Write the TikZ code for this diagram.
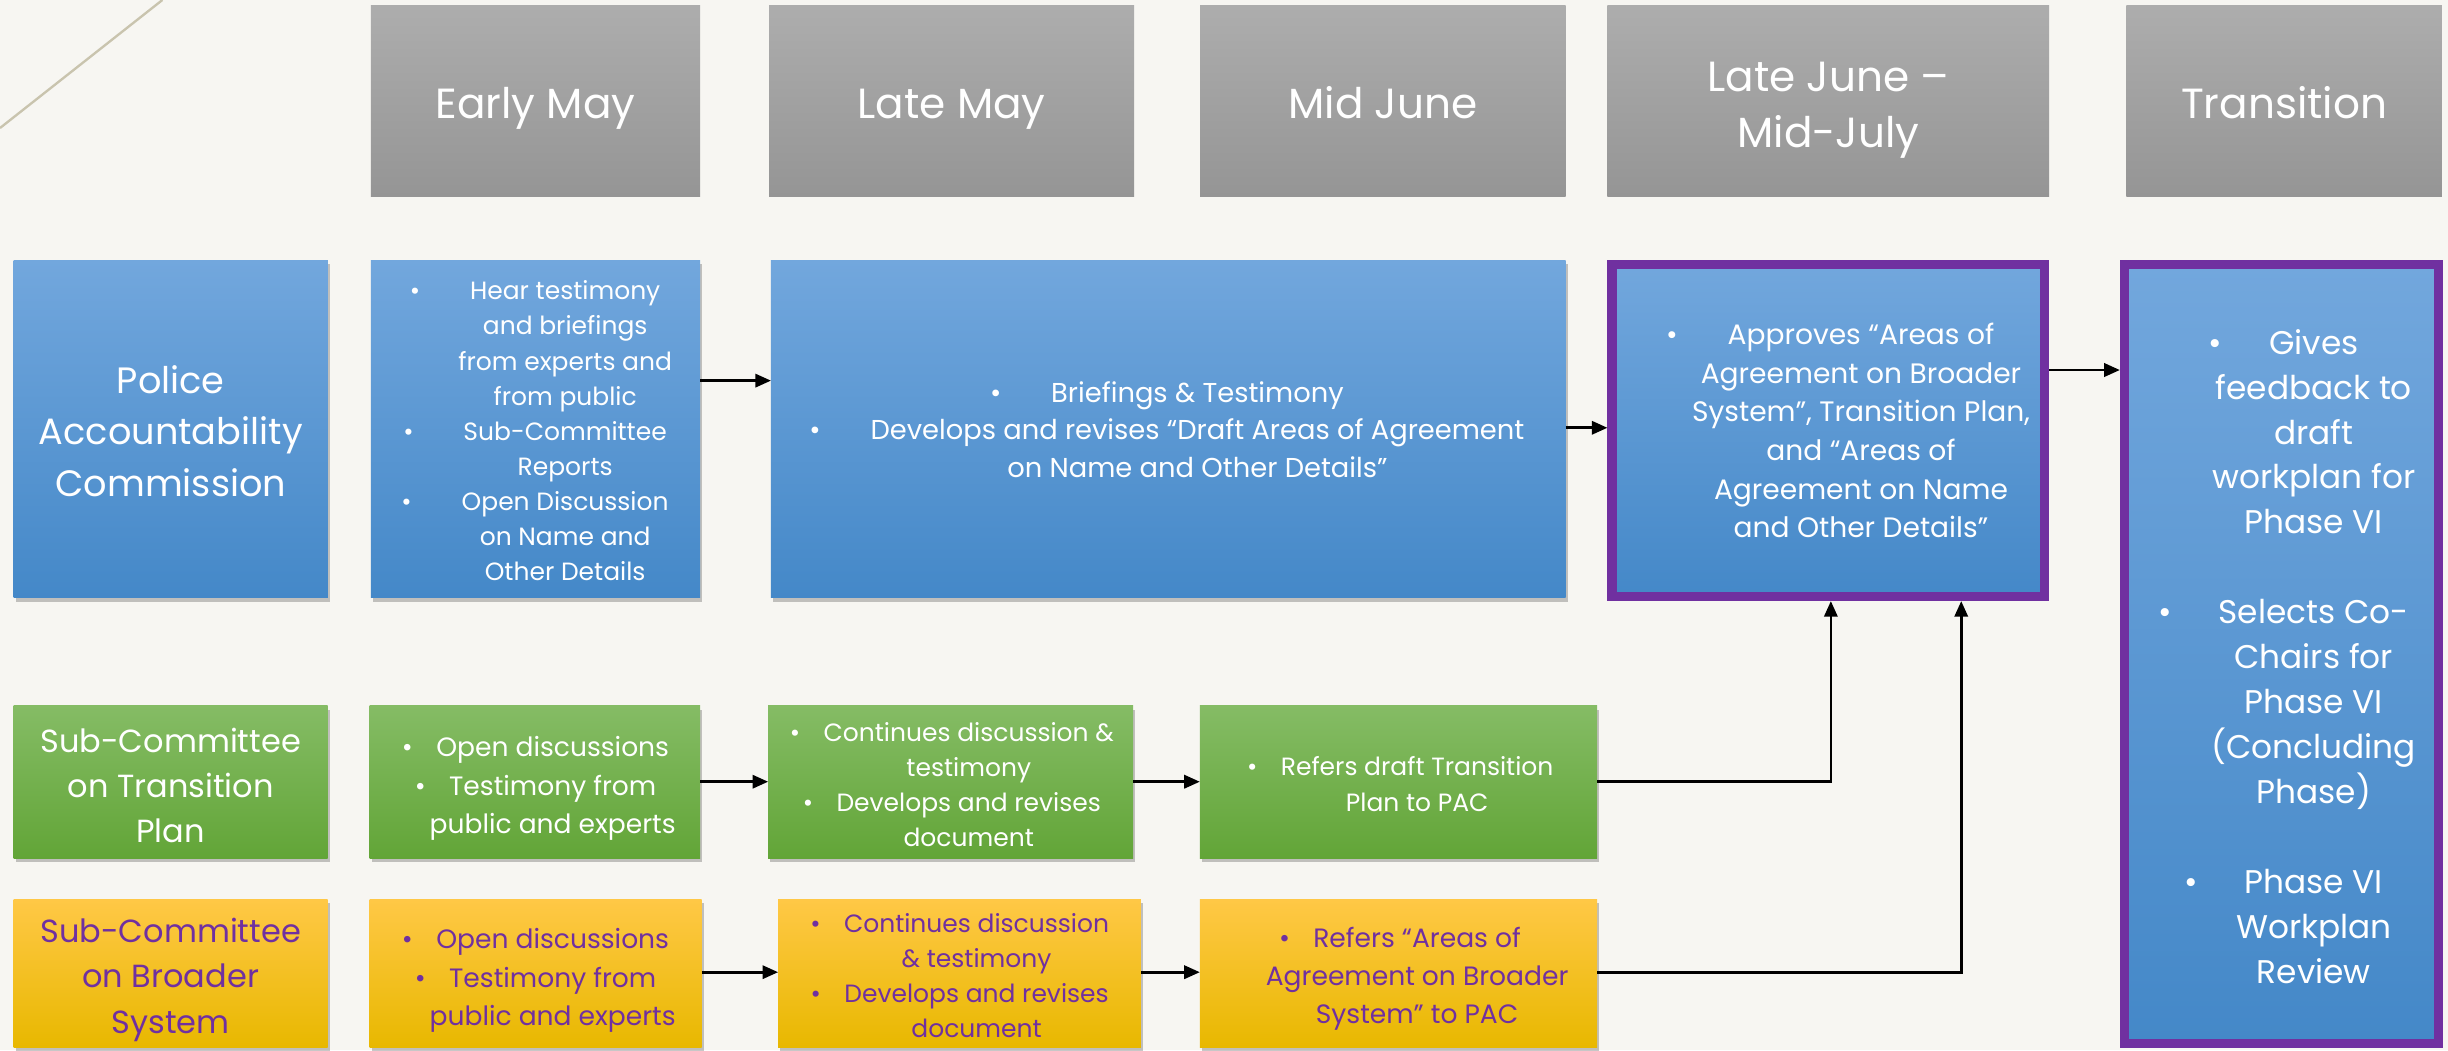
\documentclass[tikz,border=0pt]{standalone}
\usepackage{fontspec}
\setmainfont{Poppins}
\usetikzlibrary{arrows.meta,shadows}
\definecolor{bg}{HTML}{F7F6F2}
\definecolor{grayT}{HTML}{ADADAD}
\definecolor{grayB}{HTML}{959595}
\definecolor{blueT}{HTML}{72A7DD}
\definecolor{blueB}{HTML}{4488C8}
\definecolor{greenT}{HTML}{85BC65}
\definecolor{greenB}{HTML}{62A537}
\definecolor{yelT}{HTML}{FFC846}
\definecolor{yelB}{HTML}{E8B800}
\definecolor{purp}{HTML}{7030A0}
\definecolor{deco}{HTML}{C9C4AE}
\newcommand\fs[2]{\fontsize{#1}{#2}\selectfont}
\newcommand\bul[1]{\llap{\textbullet\hspace{#1}}}
\tikzset{
  boxbase/.style={rectangle, inner sep=0pt, outer sep=0pt},
  shd/.style={general shadow={shadow xshift=1.5pt, shadow yshift=-2.5pt, fill=black, opacity=0.22}},
  hdrbox/.style={boxbase, top color=grayT, bottom color=grayB},
  bluebox/.style={boxbase, shd, top color=blueT, bottom color=blueB},
  framebox/.style={boxbase, top color=blueT, bottom color=blueB, draw=purp, line width=5.8pt, outer sep=2.9pt},
  greenbox/.style={boxbase, shd, top color=greenT, bottom color=greenB},
  yelbox/.style={boxbase, shd, top color=yelT, bottom color=yelB},
  txt/.style={align=center, inner sep=0pt, text=white},
  ptxt/.style={align=center, inner sep=0pt, text=purp},
  htxt/.style={txt, font=\fs{27}{36}},
  h1txt/.style={htxt, text height=0.74em, text depth=0pt},
  arr/.style={draw=black, line width=1.7pt, -{Triangle[length=10pt,width=8.5pt]}},
}
\begin{document}
\begin{tikzpicture}[x=1pt,y=-1pt]
\useasboundingbox (0,0) rectangle (1568,672.6);
\fill[bg] (0,0) rectangle (1568,672.6);
\draw[deco, line width=1.5pt] (0,82) -- (104,0);

% headers
\node[hdrbox, minimum width=210.8pt, minimum height=122.5pt] (h1) at (343,64.55) {};
\node[hdrbox, minimum width=233.7pt, minimum height=122.5pt] (h2) at (609.55,64.55) {};
\node[hdrbox, minimum width=234.1pt, minimum height=122.5pt] (h3) at (885.75,64.55) {};
\node[hdrbox, minimum width=282.9pt, minimum height=122.5pt] (h4) at (1171.05,64.55) {};
\node[hdrbox, minimum width=202pt, minimum height=122.5pt] (h5) at (1463,64.55) {};
\node[h1txt] (th1) at (343,72.5) {Early May};
\node[h1txt] (th2) at (609.55,72.5) {Late May};
\node[h1txt] (th3) at (885.75,72.5) {Mid June};
\node[htxt] (th4) at (1171.05,70.6) {Late June –\\Mid-July};
\node[h1txt] (th5) at (1463,72.3) {Transition};

% row 1
\node[bluebox, minimum width=201.2pt, minimum height=216.2pt] (b1) at (109.4,274.7) {};
\node[bluebox, minimum width=210.8pt, minimum height=216.2pt] (b2) at (343,274.7) {};
\node[bluebox, minimum width=509pt, minimum height=216.2pt] (b3) at (748.3,274.7) {};
\node[framebox, minimum width=277.1pt, minimum height=212.6pt] (b4) at (1171.05,275.8) {};
\node[framebox, minimum width=200.9pt, minimum height=498.6pt] (b5) at (1461.15,418.8) {};

\node[txt, font=\fs{23.5}{33}] (tb1) at (109.4,276) {Police\\Accountability\\Commission};
\node[txt, font=\fs{16}{22.5}] (tb2) at (362,276) {\bul{32pt}Hear testimony\\and briefings\\from experts and\\from public\\\bul{32pt}Sub-Committee\\Reports\\\bul{32pt}Open Discussion\\on Name and\\Other Details};
\node[txt, font=\fs{17.5}{24}] (tb3) at (767,275) {\bul{32pt}Briefings \& Testimony\\\bul{32pt}Develops and revises “Draft Areas of Agreement\\on Name and Other Details”};
\node[txt, font=\fs{18}{24.7}] (tb4) at (1192,275.8) {\bul{32pt}Approves “Areas of\\Agreement on Broader\\System”, Transition Plan,\\and “Areas of\\Agreement on Name\\and Other Details”};
\node[txt, font=\fs{21}{28.8}] (tb5) at (1482,420.5) {\bul{30pt}Gives\\feedback to\\draft\\workplan for\\Phase VI\\[28.8pt]\bul{30pt}Selects Co-\\Chairs for\\Phase VI\\(Concluding\\Phase)\\[28.8pt]\bul{30pt}Phase VI\\Workplan\\Review};

% row 2
\node[greenbox, minimum width=201pt, minimum height=97.8pt] (g1) at (109.3,500.9) {};
\node[greenbox, minimum width=211.7pt, minimum height=97.8pt] (g2) at (342.55,500.9) {};
\node[greenbox, minimum width=233.8pt, minimum height=97.8pt] (g3) at (608.9,500.9) {};
\node[greenbox, minimum width=254.5pt, minimum height=97.8pt] (g4) at (895.75,500.9) {};
\node[txt, font=\fs{20.5}{28.8}] (tg1) at (109.3,503) {Sub-Committee\\on Transition\\Plan};
\node[txt, font=\fs{17}{24.7}] (tg2) at (354,505) {\bul{15pt}Open discussions\\\bul{15pt}Testimony from\\public and experts};
\node[txt, font=\fs{16}{22.5}] (tg3) at (620.5,502.6) {\bul{15pt}Continues discussion \&\\testimony\\\bul{15pt}Develops and revises\\document};
\node[txt, font=\fs{16}{22.5}] (tg4) at (907.7,502.2) {\bul{15pt}Refers draft Transition\\Plan to PAC};

% row 3
\node[yelbox, minimum width=201pt, minimum height=95pt] (y1) at (109.3,623.45) {};
\node[yelbox, minimum width=212.7pt, minimum height=95pt] (y2) at (343.05,623.45) {};
\node[yelbox, minimum width=232.4pt, minimum height=95pt] (y3) at (614.6,623.45) {};
\node[yelbox, minimum width=254.5pt, minimum height=95pt] (y4) at (895.75,623.45) {};
\node[ptxt, font=\fs{20.5}{29}] (ty1) at (109.3,627.5) {Sub-Committee\\on Broader\\System};
\node[ptxt, font=\fs{17}{24.7}] (ty2) at (354,628) {\bul{15pt}Open discussions\\\bul{15pt}Testimony from\\public and experts};
\node[ptxt, font=\fs{16}{22.5}] (ty3) at (625.5,624.8) {\bul{15pt}Continues discussion\\\& testimony\\\bul{15pt}Develops and revises\\document};
\node[ptxt, font=\fs{17}{24.4}] (ty4) at (907.7,627) {\bul{15pt}Refers “Areas of\\Agreement on Broader\\System” to PAC};

% connectors
\draw[arr] (b2.east |- 0,243.8) -- (b3.west |- 0,243.8);
\draw[arr] (b3.east |- 0,274) -- (b4.west |- 0,274);
\draw[arr] (b4.east |- 0,237) -- (b5.west |- 0,237);
\draw[arr] (g2.east |- 0,500.7) -- (g3.west |- 0,500.7);
\draw[arr] (g3.east |- 0,500.7) -- (g4.west |- 0,500.7);
\draw[arr] (g4.east |- 0,500.7) -| (b4.south -| 1172.7,0);
\draw[arr] (y2.east |- 0,622.7) -- (y3.west |- 0,622.7);
\draw[arr] (y3.east |- 0,622.7) -- (y4.west |- 0,622.7);
\draw[arr] (y4.east |- 0,622.7) -| (b4.south -| 1256.2,0);
\end{tikzpicture}
\end{document}
